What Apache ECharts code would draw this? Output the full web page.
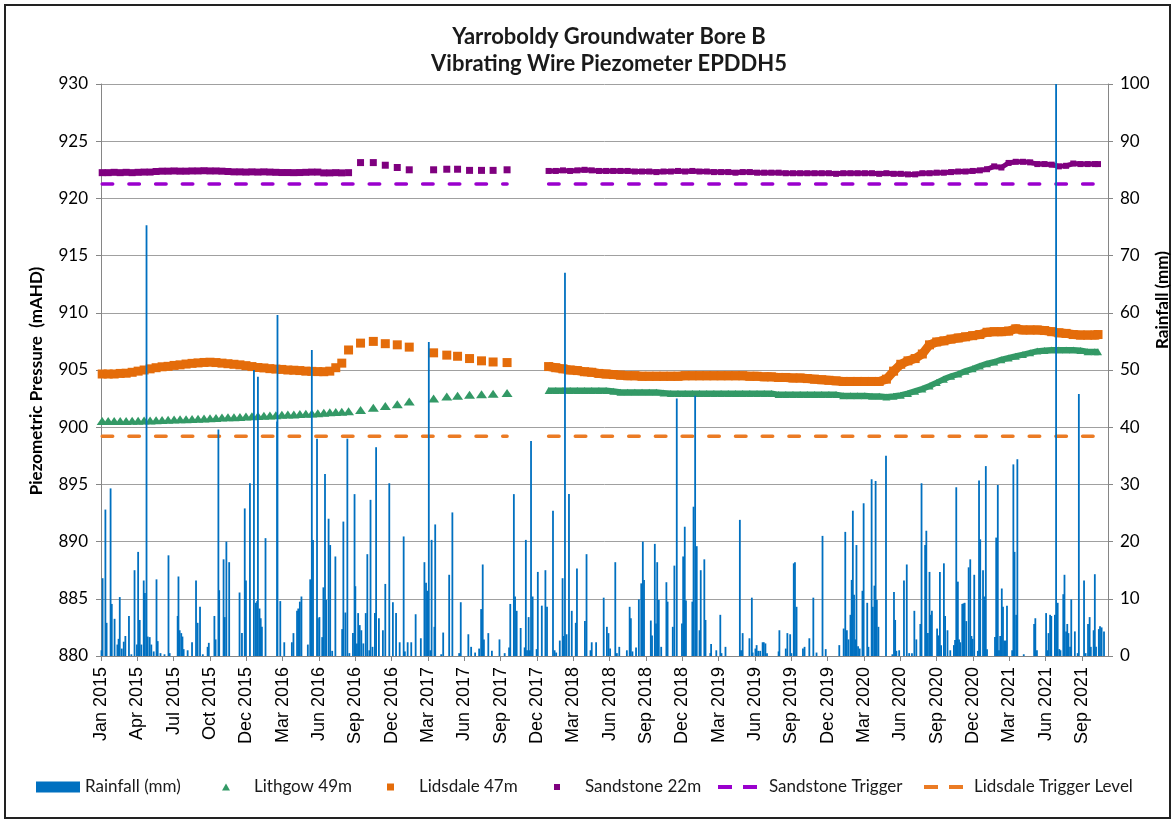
<!DOCTYPE html>
<html><head><meta charset="utf-8">
<script src="https://cdn.jsdelivr.net/npm/echarts@6/dist/echarts.min.js"></script>
<style>html,body{margin:0;padding:0;background:#fff}#c{width:1174px;height:823px}</style>
</head><body><div id="c"></div>
<script>
// x values are days since 1 Jan 2015; axis ticks every 91 days (Excel date axis)
const tickLabels = ['Jan 2015','Apr 2015','Jul 2015','Oct 2015','Dec 2015','Mar 2016','Jun 2016','Sep 2016','Dec 2016','Mar 2017','Jun 2017','Sep 2017','Dec 2017','Mar 2018','Jun 2018','Sep 2018','Dec 2018','Mar 2019','Jun 2019','Sep 2019','Dec 2019','Mar 2020','Jun 2020','Sep 2020','Dec 2020','Mar 2021','Jun 2021','Sep 2021'];

// ---- piezometer readings, first logger period (Jan 2015 - Oct 2017) ----
const earlyDays = [3,18,33,48,63,78,93,108,123,138,153,168,183,198,213,228,243,258,273,288,303,318,333,348,363,378,393,408,423,438,453,468,483,498,513,528,543,558,573,588,603,
  620,650,682,712,742,772,833,866,893,923,953,982,1017];
const lithgowEarly = [900.55,900.55,900.55,900.55,900.55,900.57,900.57,900.58,900.58,900.6,900.62,900.65,900.67,900.7,900.7,900.72,900.74,900.76,900.78,900.8,900.84,900.86,900.88,900.9,900.93,900.96,900.98,901.0,901.02,901.05,901.08,901.1,901.12,901.15,901.18,901.2,901.23,901.26,901.3,901.33,901.36,
  901.4,901.5,901.7,901.85,902.0,902.25,902.5,902.68,902.75,902.83,902.87,902.93,903.0];
const lidsdaleEarly = [904.65,904.65,904.65,904.7,904.72,904.8,904.9,905.0,905.1,905.2,905.28,905.32,905.4,905.45,905.52,905.58,905.62,905.66,905.68,905.65,905.6,905.55,905.5,905.45,905.38,905.3,905.22,905.18,905.12,905.08,905.05,905.0,904.98,904.95,904.9,904.88,904.86,904.85,904.9,905.2,905.6,
  906.75,907.35,907.5,907.3,907.2,907.0,906.5,906.3,906.2,906.0,905.8,905.7,905.65];
const sandstoneEarly = [922.25,922.25,922.28,922.25,922.28,922.25,922.28,922.3,922.3,922.35,922.38,922.38,922.4,922.38,922.38,922.4,922.4,922.42,922.4,922.4,922.38,922.35,922.32,922.32,922.3,922.32,922.3,922.32,922.3,922.28,922.26,922.26,922.25,922.26,922.28,922.3,922.3,922.23,922.23,922.25,922.23,
  922.25,923.13,923.13,922.9,922.7,922.5,922.5,922.55,922.55,922.45,922.45,922.45,922.5];

// ---- second logger period (Jan 2018 - Nov 2021) ----
const lateDays = [1121,1139,1157,1175,1193,1211,1229,1247,1265,1283,1301,1319,1337,1355,1373,1391,1409,1427,1445,1463,1481,1499,1517,1535,1553,1571,1589,1607,1625,1643,1661,1679,1697,1715,1733,1751,1769,1787,1805,1823,1841,1859,1877,1895,1913,1931,1949,1967,1985,2003,2021,2039,2057,2075,2093,2111,2129,2147,2165,2183,2201,2219,2237,2255,2273,2291,2309,2327,2345,2363,2381,2399,2417,2435,2453,2471,2489,2497];
const sandstoneLate = [922.4,922.4,922.45,922.4,922.45,922.5,922.45,922.4,922.4,922.4,922.4,922.4,922.35,922.35,922.35,922.3,922.35,922.35,922.4,922.35,922.4,922.35,922.35,922.3,922.3,922.3,922.25,922.3,922.3,922.25,922.25,922.25,922.25,922.2,922.2,922.2,922.2,922.2,922.2,922.2,922.15,922.2,922.2,922.2,922.2,922.2,922.15,922.2,922.15,922.15,922.1,922.1,922.2,922.2,922.25,922.25,922.3,922.35,922.35,922.4,922.45,922.55,922.8,922.7,923.1,923.2,923.2,923.15,923.0,923.0,922.95,922.8,922.85,923.05,923.0,923.0,923.0,923.0];
const lidsdaleLate = [905.3,905.2,905.1,905.0,904.95,904.85,904.8,904.7,904.65,904.6,904.55,904.5,904.5,904.45,904.45,904.45,904.45,904.45,904.45,904.5,904.5,904.5,904.5,904.5,904.5,904.5,904.5,904.5,904.45,904.45,904.4,904.4,904.35,904.35,904.3,904.3,904.25,904.2,904.15,904.1,904.05,904.0,904.0,904.0,904.0,904.0,904.0,904.2,904.9,905.5,905.8,906.0,906.4,907.2,907.45,907.55,907.7,907.8,907.9,908.0,908.1,908.3,908.35,908.35,908.4,908.6,908.5,908.5,908.5,908.45,908.35,908.25,908.2,908.1,908.05,908.05,908.05,908.1];
const lithgowLate = [903.2,903.2,903.2,903.2,903.2,903.2,903.2,903.2,903.2,903.15,903.05,903.05,903.05,903.05,903.05,903.05,903.0,902.95,902.95,902.95,902.95,902.95,902.95,902.95,902.95,902.95,902.95,902.95,902.95,902.95,902.95,902.95,902.85,902.85,902.85,902.85,902.85,902.85,902.85,902.85,902.85,902.75,902.75,902.75,902.75,902.7,902.7,902.65,902.7,902.8,902.95,903.15,903.35,903.6,903.9,904.2,904.45,904.65,904.9,905.1,905.35,905.55,905.7,905.9,906.05,906.2,906.35,906.5,906.65,906.7,906.75,906.75,906.75,906.75,906.7,906.6,906.6,906.6];

// ---- trigger levels ----
const triggerDays = [3,1017,1121,2497];
const sandstoneTrigger = 921.25;
const lidsdaleTrigger = 899.2;

// ---- daily rainfall (mm), day index since 1 Jan 2015 ----
const rainDays = [1,4,11,14,24,27,34,41,44,47,52,57,61,70,76,84,90,93,97,101,107,110,114,117,122,126,132,139,142,149,159,169,172,192,194,197,201,204,207,217,228,238,242,248,255,267,270,284,287,294,296,307,310,314,321,347,353,360,363,373,383,388,391,393,397,400,403,412,441,442,449,459,478,482,491,494,498,502,
518,524,528,531,541,543,547,554,557,561,564,570,574,579,587,604,607,612,617,622,631,635,637,641,644,648,652,657,663,667,672,675,680,686,689,696,706,712,722,731,739,748,758,761,768,777,788,801,810,814,817,821,825,828,835,837,852,857,872,880,897,901,920,927,937,947,952,956,959,970,979,998,
1011,1022,1025,1034,1037,1041,1051,1061,1064,1067,1071,1074,1077,1081,1091,1094,1104,1113,1117,1132,1136,1140,1149,1156,1159,1162,1166,1172,1179,1189,1192,1212,1216,1226,1229,1240,1259,1267,1271,1275,1288,1292,1298,1317,1324,1327,1331,1340,1347,1353,1357,1360,1377,1380,1387,1390,1393,1397,1403,1416,1419,1432,1436,1442,1455,1458,1462,1465,1481,1484,1488,1492,1499,1502,
1511,1514,1526,1528,1541,1551,1554,1564,1600,1603,1607,1624,1630,1632,1639,1642,1646,1651,1657,1660,1664,1668,1697,1699,1715,1719,1726,1729,1735,1738,1742,1758,1762,1774,1784,1792,1807,1815,1849,1860,1864,1868,1872,1877,1880,1883,1886,1889,1892,1896,1900,1907,1910,1919,1922,1930,1933,1937,1940,1943,1947,1966,1982,1986,1989,1992,1999,2011,2018,
2024,2031,2037,2042,2052,2055,2064,2067,2071,2075,2077,2081,2094,2097,2101,2104,2111,2114,2120,2127,2136,2139,2142,2146,2149,2152,2157,2160,2163,2167,2173,2177,2180,2183,2187,2196,2199,2202,2209,2212,2216,2219,2239,2242,2246,2249,2252,2256,2259,2262,2266,2269,2282,2285,2288,2292,2295,2311,2337,2340,2344,2367,2370,2373,2377,2380,2389,2392,2396,2400,2403,2410,2413,2417,2420,2423,2427,2430,2439,2446,2449,2462,2466,2472,2476,2479,2486,2489,2492,2499,2502,2506,2512];
const rainMm = [1,13.6,25.6,5.8,29.3,9.1,6.5,2,3,10.3,1.3,2.5,3.5,7,0.3,15,2,18.2,6.3,2,13.2,11,75.3,3.4,3.3,2,0.8,13.4,2.6,0.5,0.3,17.6,0.5,7,13.9,4.5,4,3.4,1.2,1,2.4,13.2,5.8,8.6,0.3,1.6,2.3,7,2.9,39.6,11.5,16.9,6.8,20,16.4,11.1,4,25.8,13.2,30.2,50,9.3,9.6,48.8,8.3,6.6,5.1,20.6,41,59.6,9.6,2.4,2.4,4,7.9,8.3,9.5,10.4,
2,13.4,53.5,20.3,38,6.6,6.8,3.3,12,31.8,9.8,24,19.4,0.9,17.4,4.7,23.5,7.6,38,0.5,4,28.3,12.2,2.2,7.5,5.4,4.5,2.2,7.5,17.8,1,27.3,1.6,7.5,36.5,6.6,4.5,12.6,30.2,9.4,7.5,2.4,20.9,0.8,2.4,2.4,7.3,3.1,16.4,12.8,11.4,54.9,1,20.3,5.1,23,0.3,4.1,14.2,25.1,0.5,9.4,3.8,1.6,0.6,1.3,8.2,16,2.9,4,0.9,2.9,
0.5,1.5,9.1,28.3,10.4,7.9,4.9,1.5,20.3,1,6.8,1,37.6,10.4,1.2,14.7,8.8,15,8.6,25.4,1,0.6,2.7,13.6,3.5,67,3.8,28.3,7.9,5.8,15.3,6.1,17.8,1,2.4,2.4,10.2,5.1,4,1.3,16.4,0.5,1.6,1,8.6,6.6,0.8,1.5,9.9,12.7,20,13.3,6.2,3.6,19.6,5.7,16.4,9.8,1.6,12.9,9.5,5.1,15.8,45,5.7,17.4,22.6,9.7,9.5,26.1,45.5,19.2,4.5,15,
16.9,6.3,0.5,2.1,1,7.2,0.5,1.6,23.8,1,4,3.1,10.2,0.6,1.3,1.9,0.9,0.9,2.4,2.4,2.2,0.5,0.8,4.5,1.3,4,3.8,0.5,16.2,16.4,8.6,1.3,1.6,3.1,10.2,0.6,21,1.2,1.9,4.8,21.7,4.5,2.9,7.2,13.3,25.4,10.7,2.9,19.4,1.7,1.3,11.4,26.7,9.3,1.6,30.9,8.6,12.3,30.6,9.8,5.1,35,0.3,11.2,6.3,0.9,1,13.2,16,
0.5,0.5,7.9,2.9,5.6,30.2,19.4,21.9,4,14.7,7.2,7.9,4.8,3.6,14.7,1.9,16.2,7,4.5,1,1.9,2.8,29.5,13,2.9,2.4,9.1,9.2,9.3,6.1,15.5,16.9,3.5,3,14.2,0.9,30.7,20.4,15,10.4,33.2,1.2,3.3,20.7,29.9,1,3.5,11.8,8.6,2.7,2.7,8.8,1,33.5,18.2,7.2,34.4,0.3,5.6,6.6,1,7.5,1,4,7.2,7,7.2,100,9.3,1.2,1,10.8,14.2,4.3,5.6,4,1.6,9.9,4.3,0.5,45.8,13.2,0.5,5.6,6.8,1.6,4.5,14.3,1.6,4.7,5.2,5,4.3];

function pairs(days, vals){ const out=[]; for(let i=0;i<days.length;i++){ if(vals[i]!=null) out.push([days[i], vals[i]]); } return out; }
function trig(v){ return [[triggerDays[0],v],[triggerDays[1],v],[(triggerDays[1]+triggerDays[2])/2,'-'],[triggerDays[2],v],[triggerDays[3],v]]; }

const C_RAIN='#0070C0', C_GREEN='#339966', C_ORANGE='#E46C0A', C_PURPLE='#7F007F', C_VIOLET='#9A00CD', C_TRIG_OR='#EB7B24';
const CAL='Lato', AR='Liberation Sans';
const DASH_ICON='path://M0,0h14v4h-14zM25,0h14v4h-14z';

const chart = echarts.init(document.getElementById('c'), null, {renderer:'canvas'});
function legendItem(name, left, extra, padLeft){
  return Object.assign({
    data:[name], left:left, top:778, orient:'horizontal', selectedMode:false, padding:0,
    textStyle:{fontFamily:CAL, fontSize:17, color:'#1a1a1a', lineHeight:18, padding:[0,0,0,padLeft||0]}
  }, extra);
}
chart.setOption({
  animation:false,
  backgroundColor:'#fff',
  grid:{left:101, right:66, top:84, bottom:167, containLabel:false},
  xAxis:{type:'value', min:0, max:2522, interval:91,
    axisLine:{show:true, lineStyle:{color:'#868686', width:1}},
    axisTick:{show:true, length:5, lineStyle:{color:'#868686'}},
    splitLine:{show:false},
    axisLabel:{rotate:90, margin:11, fontFamily:AR, fontSize:18, color:'#000', showMaxLabel:false,
      formatter:function(v){ return (v % 91 === 0) ? (tickLabels[v/91] || '') : ''; }}
  },
  yAxis:[
    {type:'value', min:880, max:930, interval:5, position:'left',
      axisLine:{show:true, lineStyle:{color:'#868686'}},
      axisTick:{show:true, length:5, lineStyle:{color:'#868686'}},
      splitLine:{show:true, lineStyle:{color:'#A0A0A0', width:1}},
      axisLabel:{fontFamily:CAL, fontSize:17, color:'#000', margin:13}},
    {type:'value', min:0, max:100, interval:10, position:'right',
      axisLine:{show:true, lineStyle:{color:'#868686'}},
      axisTick:{show:true, length:5, lineStyle:{color:'#868686'}},
      splitLine:{show:false},
      axisLabel:{fontFamily:CAL, fontSize:17, color:'#000', margin:12}}
  ],
  legend:[
    legendItem('Rainfall (mm)', 36, {icon:'rect', itemWidth:44, itemHeight:11}),
    legendItem('Lithgow 49m', 222, {icon:'triangle', itemWidth:8, itemHeight:7}, 19),
    legendItem('Lidsdale 47m', 387, {icon:'rect', itemWidth:7, itemHeight:7}, 20),
    legendItem('Sandstone 22m', 554, {icon:'rect', itemWidth:6, itemHeight:6}, 20),
    legendItem('Sandstone Trigger', 718, {icon:DASH_ICON, itemWidth:39, itemHeight:4}, 7),
    legendItem('Lidsdale Trigger Level', 924, {icon:DASH_ICON, itemWidth:39, itemHeight:4}, 6)
  ],
  graphic:[
    {type:'rect', shape:{x:5, y:5, width:1165, height:813}, style:{fill:'none', stroke:'#222', lineWidth:2}, z:-1, silent:true},
    {type:'text', x:609, y:37, style:{text:'Yarroboldy Groundwater Bore B', font:'bold 22px Lato', fill:'#1a1a1a', textAlign:'center', textVerticalAlign:'middle'}},
    {type:'text', x:609, y:64, style:{text:'Vibrating Wire Piezometer EPDDH5', font:'bold 22px Lato', fill:'#1a1a1a', textAlign:'center', textVerticalAlign:'middle'}},
    {type:'text', x:37, y:381, rotation:Math.PI/2, style:{text:'Piezometric Pressure  (mAHD)', font:'bold 17px Lato', fill:'#000', textAlign:'center', textVerticalAlign:'middle'}},
    {type:'text', x:1163, y:300, rotation:Math.PI/2, style:{text:'Rainfall (mm)', font:'bold 17px Lato', fill:'#000', textAlign:'center', textVerticalAlign:'middle'}}
  ],
  series:[
    {name:'Sandstone Trigger', type:'line', yAxisIndex:0, data:trig(sandstoneTrigger), symbol:'none', connectNulls:false,
      lineStyle:{color:C_VIOLET, width:3.5, type:[10.5,16.2], cap:'round'}, itemStyle:{color:C_VIOLET}, z:2},
    {name:'Lidsdale Trigger Level', type:'line', yAxisIndex:0, data:trig(lidsdaleTrigger), symbol:'none', connectNulls:false,
      lineStyle:{color:C_TRIG_OR, width:3.5, type:[10.5,16.2], cap:'round'}, itemStyle:{color:C_TRIG_OR}, z:2},
    {name:'Lithgow 49m', type:'scatter', yAxisIndex:0, data:pairs(earlyDays, lithgowEarly), symbol:'triangle', symbolSize:[11,8], itemStyle:{color:C_GREEN, opacity:1}, z:3},
    {name:'Lidsdale 47m', type:'scatter', yAxisIndex:0, data:pairs(earlyDays, lidsdaleEarly), symbol:'rect', symbolSize:9, itemStyle:{color:C_ORANGE, opacity:1}, z:3},
    {name:'Sandstone 22m', type:'scatter', yAxisIndex:0, data:pairs(earlyDays, sandstoneEarly), symbol:'rect', symbolSize:7, itemStyle:{color:C_PURPLE, opacity:1}, z:3},
    {name:'Lithgow 49m', type:'line', yAxisIndex:0, data:pairs(lateDays, lithgowLate), symbol:'triangle', symbolSize:[8,7], showSymbol:true,
      lineStyle:{color:C_GREEN, width:6}, itemStyle:{color:C_GREEN}, z:3},
    {name:'Lidsdale 47m', type:'line', yAxisIndex:0, data:pairs(lateDays, lidsdaleLate), symbol:'rect', symbolSize:9, showSymbol:true,
      lineStyle:{color:C_ORANGE, width:9}, itemStyle:{color:C_ORANGE}, z:3},
    {name:'Sandstone 22m', type:'line', yAxisIndex:0, data:pairs(lateDays, sandstoneLate), symbol:'rect', symbolSize:6, showSymbol:true,
      lineStyle:{color:C_PURPLE, width:5}, itemStyle:{color:C_PURPLE}, z:3},
    {name:'Rainfall (mm)', type:'bar', yAxisIndex:1, data:pairs(rainDays, rainMm), barWidth:1.8,
      itemStyle:{color:C_RAIN}, z:5}
  ]
});
</script></body></html>
